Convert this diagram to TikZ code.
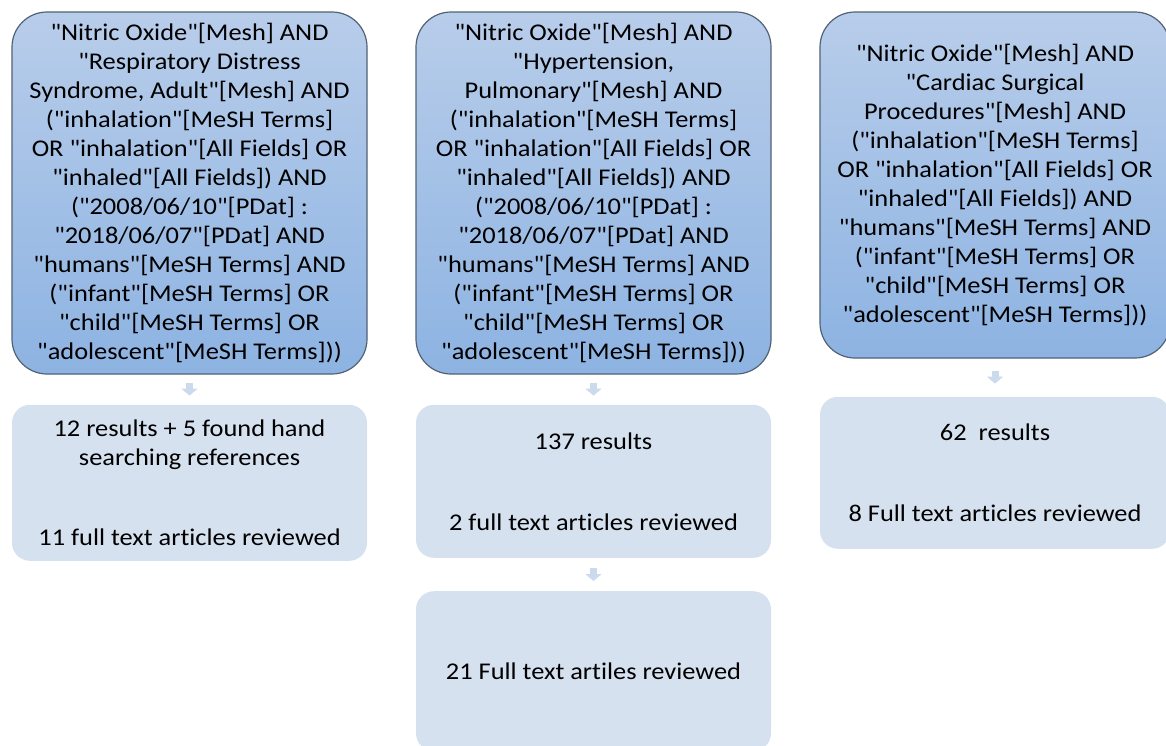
\documentclass[tikz,border=0pt]{standalone}
\usepackage{fontspec}
\setmainfont{Carlito}[Ligatures={TeXOff,CommonOff}, FakeStretch=1.1]
\usetikzlibrary{positioning,arrows.meta}
\definecolor{querytop}{RGB}{184,205,234}
\definecolor{querybot}{RGB}{141,179,226}
\definecolor{queryline}{RGB}{82,98,118}
\definecolor{resultfill}{RGB}{214,225,240}
\definecolor{arrowfill}{RGB}{204,218,238}
\tikzset{
  query/.style={rectangle, rounded corners=35pt, draw=queryline, line width=1.2pt,
                top color=querytop, bottom color=querybot, align=center,
                minimum width=355pt, inner sep=0pt, font=\fontsize{24}{29}\selectfont},
  result/.style={rectangle, rounded corners=18pt, fill=resultfill, align=center,
                 minimum width=355pt, inner sep=0pt, font=\fontsize{24}{29}\selectfont},
  flow/.style 2 args={draw=arrowfill, line width=7pt, shorten <=#1, shorten >=#2,
                      -{Triangle[width=16pt,length=7pt,fill=arrowfill]}}
}

\begin{document}
\begin{tikzpicture}[x=1pt,y=1pt]
   \clip (0,0) rectangle (1166,-745);
   \fill[white] (0,0) rectangle (1166,-745);

   % search strings
   \node[query, minimum height=362pt] (q1) at (189.5,-193)
     {"Nitric Oxide"[Mesh] AND\\ "Respiratory Distress\\ Syndrome, Adult"[Mesh] AND\\
      ("inhalation"[MeSH Terms]\\ OR "inhalation"[All Fields] OR\\ "inhaled"[All Fields]) AND\\
      ("2008/06/10"[PDat] :\\ "2018/06/07"[PDat] AND\\ "humans"[MeSH Terms] AND\\
      ("infant"[MeSH Terms] OR\\ "child"[MeSH Terms] OR\\ "adolescent"[MeSH Terms]))};
   \node[query, minimum height=362pt] (q2) at (593.5,-193)
     {"Nitric Oxide"[Mesh] AND\\ "Hypertension,\\ Pulmonary"[Mesh] AND\\
      ("inhalation"[MeSH Terms]\\ OR "inhalation"[All Fields] OR\\ "inhaled"[All Fields]) AND\\
      ("2008/06/10"[PDat] :\\ "2018/06/07"[PDat] AND\\ "humans"[MeSH Terms] AND\\
      ("infant"[MeSH Terms] OR\\ "child"[MeSH Terms] OR\\ "adolescent"[MeSH Terms]))};
   \node[query, minimum height=346pt, minimum width=350pt] (q3) at (995,-185)
     {"Nitric Oxide"[Mesh] AND\\ "Cardiac Surgical\\ Procedures"[Mesh] AND\\
      ("inhalation"[MeSH Terms]\\ OR "inhalation"[All Fields] OR\\ "inhaled"[All Fields]) AND\\
      "humans"[MeSH Terms] AND\\ ("infant"[MeSH Terms] OR\\ "child"[MeSH Terms] OR\\
      "adolescent"[MeSH Terms]))};

   % results
   \node[result, minimum height=156pt, below=30pt of q1] (r1)
     {12 results + 5 found hand\\ searching references\\[51pt] 11 full text articles reviewed};
   \node[result, minimum height=153pt, below=30pt of q2] (r2)
     {137 results\\[52pt] 2 full text articles reviewed};
   \node[result, minimum height=152pt, minimum width=350pt, below=38pt of q3] (r3)
     {62\ \ results\\[52pt] 8 Full text articles reviewed};
   \node[result, minimum height=160pt, below=33pt of r2] (f2)
     {21 Full text artiles reviewed};

   % arrows
   \draw[flow={8pt}{9pt}]  (q1.south) -- (r1.north);
   \draw[flow={8pt}{9pt}]  (q2.south) -- (r2.north);
   \draw[flow={12pt}{13pt}] (q3.south) -- (r3.north);
   \draw[flow={10pt}{10pt}] (r2.south) -- (f2.north);
\end{tikzpicture}
\end{document}
